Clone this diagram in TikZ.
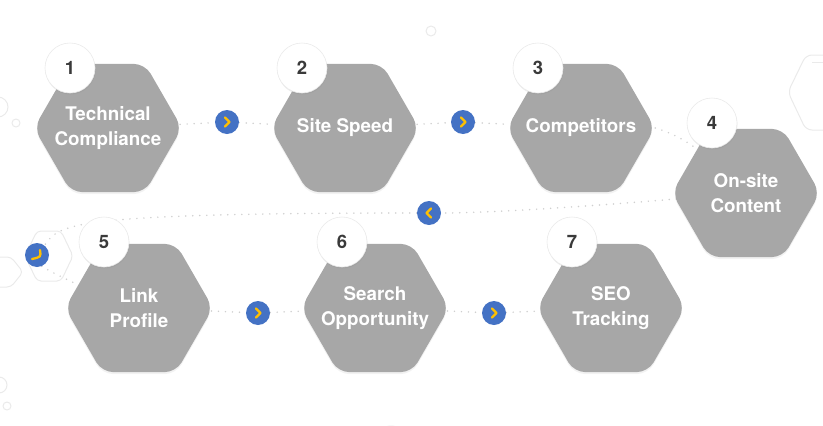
\documentclass[tikz,border=0pt]{standalone}
\usepackage{fontspec}
\setmainfont{TeX Gyre Heros}
\usetikzlibrary{shapes.geometric,shadows,calc,backgrounds}
\definecolor{hexgray}{HTML}{A7A7A7}
\definecolor{numtxt}{HTML}{3A3A3A}
\definecolor{arrblue}{HTML}{4472C4}
\definecolor{arryel}{HTML}{FFC000}
\definecolor{dotgray}{HTML}{CFCFCF}
\definecolor{faint}{HTML}{EAEAEA}
\tikzset{
 hexbox/.style={regular polygon, regular polygon sides=6, minimum size=148pt, inner sep=0pt,
   fill=hexgray, rounded corners=11pt,
   drop shadow={opacity=0.10, shadow xshift=0pt, shadow yshift=-2pt}},
 hextext/.style={text=white, font=\bfseries\fontsize{18.8}{25}\selectfont, align=center, inner sep=0pt},
 numcirc/.style={circle, minimum size=50pt, inner sep=0pt, fill=white, draw=faint, line width=0.6pt,
   text=numtxt, font=\bfseries\fontsize{18.5}{22}\selectfont,
   drop shadow={opacity=0.15, shadow xshift=0.5pt, shadow yshift=-1.5pt}},
 arrcirc/.style={circle, minimum size=24pt, inner sep=0pt, fill=arrblue},
 chevline/.style={draw=arryel, line width=2.3pt, line cap=round, line join=round},
 dotline/.style={draw=dotgray, line width=1.7pt, line cap=round, dash pattern=on 0pt off 7pt},
 faintline/.style={draw=faint, line width=1pt},
 pics/chevr/.style={code={\draw[chevline] (-2,-4.5) -- (2.5,0) -- (-2,4.5);}}
}
\begin{document}
\begin{tikzpicture}[x=1pt,y=-1pt]
\useasboundingbox (0,0) rectangle (823,426);

% faint background decorations
\draw[faintline] (431,31) circle (5);
\draw[faintline] (-2,107) circle (10);
\draw[faintline] (16,123) circle (4);
\draw[faintline] (-1,385) circle (8);
\draw[faintline] (7,406) circle (4);
\draw[faintline] (391,441) circle (15);
\draw[faintline, rounded corners=4pt] (25,256) -- (37,231) -- (61,231) -- (73,256) -- (61,281) -- (37,281) -- cycle;
\draw[faintline, rounded corners=4pt] (23,272) -- (11,257) -- (-20,257) -- (-32,272) -- (-20,287) -- (11,287) -- cycle;
\draw[faintline, rounded corners=6pt] (788,92) -- (806,55) -- (850,55) -- (868,92) -- (850,130) -- (806,130) -- cycle;
\draw[faintline] (812,62) -- (830,62);

% hexagons
\node[hexbox, label={[hextext]center:{Technical\\Compliance}}] (h1) at (108,128) {};
\node[hexbox, label={[hextext]center:{Site Speed}}] (h2) at (345,128) {};
\node[hexbox, label={[hextext]center:{Competitors}}] (h3) at (581,128) {};
\node[hexbox, label={[hextext]center:{On-site\\Content}}] (h4) at (746,193) {};
\node[hexbox, label={[hextext]center:{Link\\Profile}}] (h5) at (139,308) {};
\node[hexbox, label={[hextext]center:{Search\\Opportunity}}] (h6) at (375,308) {};
\node[hexbox, label={[hextext]center:{SEO\\Tracking}}] (h7) at (611,308) {};

% number circles
\node[numcirc] (n1) at (70,68) {1};
\node[numcirc] (n2) at (302,68) {2};
\node[numcirc] (n3) at (538,68) {3};
\node[numcirc] (n4) at (712,123) {4};
\node[numcirc] (n5) at (104,242) {5};
\node[numcirc] (n6) at (342,242) {6};
\node[numcirc] (n7) at (572,242) {7};

% arrow circles
\node[arrcirc] (a12) at (227,122) {};
\node[arrcirc] (a23) at (463,122) {};
\node[arrcirc] (a45) at (429,213) {};
\node[arrcirc] (a5) at (37,255) {};
\node[arrcirc] (a56) at (258,313) {};
\node[arrcirc] (a67) at (494,313) {};
\pic at (a12) {chevr};
\pic at (a23) {chevr};
\pic[xscale=-1] at (a45) {chevr};
\pic at (a56) {chevr};
\pic at (a67) {chevr};
\draw[chevline] ($(a5)+(3,-5)$) .. controls ($(a5)+(4,2)$) .. ($(a5)+(-5,4)$);

% dotted connectors
\begin{scope}[on background layer]
\draw[dotline] (h1) -- (a12) -- (h2);
\draw[dotline] (h2) -- (a23) -- (h3);
\draw[dotline] (h3.east) .. controls +(30,9) and +(-40,-40) .. (h4.center);
\draw[dotline] (h4.center) .. controls +(-90,8) and +(80,0) .. (a45);
\draw[dotline] (a45) .. controls (60,213) and (60,225) .. (a5);
\draw[dotline] (a5) .. controls +(5,12) and +(-50,-15) .. (h5.center);
\draw[dotline] (h5) -- (a56) -- (h6);
\draw[dotline] (h6) -- (a67) -- (h7);
\end{scope}
\end{tikzpicture}
\end{document}
